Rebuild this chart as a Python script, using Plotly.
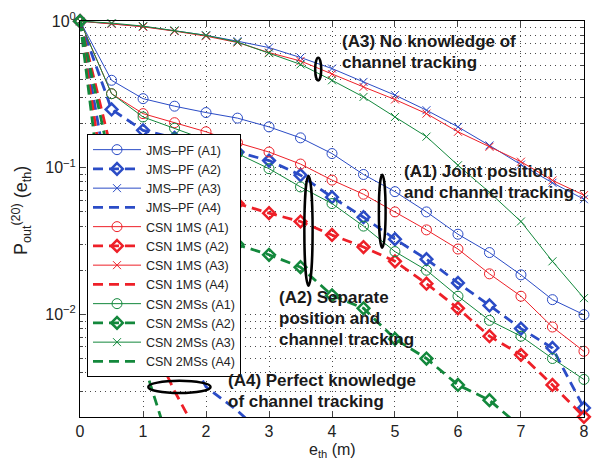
import numpy as np
import plotly.graph_objects as go

# error threshold e_th (m) where the outage probability is evaluated
x = [0, 0.5, 1, 1.5, 2, 2.5, 3, 3.5, 4, 4.5, 5, 5.5, 6, 6.5, 7, 7.5, 8]
x_a4_jms = [0, 0.5, 1, 1.5, 2, 2.5, 3]
x_a4_csn1 = [0, 0.5, 1, 1.5, 2]
x_a4_csn2 = [0, 0.5, 1, 1.5]

# (A1) joint position and channel tracking
jms_a1 = [1, 0.395, 0.296, 0.263, 0.238, 0.218, 0.19, 0.16, 0.125, 0.09, 0.0687, 0.05, 0.0352, 0.0264, 0.0186, 0.0126, 0.00995]
csn1_a1 = [1, 0.32, 0.234, 0.203, 0.176, 0.148, 0.128, 0.106, 0.0824, 0.066, 0.05, 0.0377, 0.0279, 0.0189, 0.0133, 0.0082, 0.0056]
csn2_a1 = [1, 0.32, 0.222, 0.186, 0.155, 0.125, 0.0986, 0.074, 0.057, 0.04, 0.0268, 0.020, 0.0133, 0.0091, 0.0071, 0.0050, 0.0036]

# (A2) separate position and channel tracking
jms_a2 = [1, 0.25, 0.18, 0.16, 0.145, 0.128, 0.112, 0.089, 0.063, 0.046, 0.0326, 0.0238, 0.0164, 0.0115, 0.0080, 0.0059, 0.0023]
csn1_a2 = [1, 0.13, 0.085, 0.074, 0.065, 0.057, 0.049, 0.043, 0.0348, 0.0288, 0.023, 0.0162, 0.011, 0.0071, 0.0053, 0.0033, 0.002]
csn2_a2 = [1, 0.1, 0.047, 0.04, 0.035, 0.03, 0.0255, 0.021, 0.0135, 0.011, 0.0068, 0.005, 0.0033, 0.0026, 0.0017, 0.0012, 0.0009]

# (A3) no knowledge of channel tracking
jms_a3 = [1, 0.96, 0.92, 0.86, 0.80, 0.73, 0.66, 0.565, 0.475, 0.385, 0.313, 0.247, 0.19, 0.142, 0.105, 0.079, 0.061]
csn1_a3 = [1, 0.96, 0.915, 0.855, 0.79, 0.715, 0.61, 0.535, 0.435, 0.356, 0.292, 0.234, 0.176, 0.139, 0.11, 0.082, 0.065]
csn2_a3 = [1, 0.97, 0.925, 0.865, 0.80, 0.72, 0.605, 0.507, 0.395, 0.304, 0.222, 0.163, 0.104, 0.068, 0.043, 0.023, 0.0129]

# (A4) perfect knowledge of channel tracking
jms_a4 = [1, 0.06, 0.022, 0.008, 0.0032, 0.0022, 0.0014]
csn1_a4 = [1, 0.035, 0.0085, 0.003, 0.0012]
csn2_a4 = [1, 0.018, 0.0048, 0.001]

x_ticks = [0, 1, 2, 3, 4, 5, 6, 7, 8]
y_ticks = [1, 0.1, 0.01]
y_ticktext = ["10<sup>0</sup>", "10<sup>−1</sup>", "10<sup>−2</sup>"]

BLUE = "#2b4cc6"
RED = "#ee2028"
GREEN = "#13883c"
FONT = "Liberation Sans, Arial, sans-serif"
DASH = "10px,6px"

X_RANGE = [-0.001, 8.001]
Y_RANGE = [np.log10(0.002) - 0.001, 0.001]

fig = go.Figure()


def solid(xs, ys, name, color, symbol, size):
    fig.add_trace(go.Scatter(
        x=xs, y=ys, name=name, mode="lines+markers", cliponaxis=False,
        line=dict(color=color, width=1),
        marker=dict(symbol=symbol, size=size, color=color,
                    line=dict(color=color, width=1)),
    ))


def dashed_diamond(xs, ys, name, color):
    fig.add_trace(go.Scatter(
        x=xs, y=ys, name=name, mode="lines+markers", cliponaxis=False,
        line=dict(color=color, width=2.8, dash=DASH),
        marker=dict(symbol="diamond-open", size=9, color=color,
                    line=dict(color=color, width=2.5)),
    ))


def dashed(xs, ys, name, color):
    fig.add_trace(go.Scatter(
        x=xs, y=ys, name=name, mode="lines",
        line=dict(color=color, width=2.8, dash=DASH),
    ))


solid(x, jms_a1, "JMS–PF (A1)", BLUE, "circle-open", 10)
dashed_diamond(x, jms_a2, "JMS–PF (A2)", BLUE)
solid(x, jms_a3, "JMS–PF (A3)", BLUE, "x-thin-open", 8)
dashed(x_a4_jms, jms_a4, "JMS–PF (A4)", BLUE)
solid(x, csn1_a1, "CSN 1MS (A1)", RED, "circle-open", 10)
dashed_diamond(x, csn1_a2, "CSN 1MS (A2)", RED)
solid(x, csn1_a3, "CSN 1MS (A3)", RED, "x-thin-open", 8)
dashed(x_a4_csn1, csn1_a4, "CSN 1MS (A4)", RED)
solid(x, csn2_a1, "CSN 2MSs (A1)", GREEN, "circle-open", 10)
dashed_diamond(x, csn2_a2, "CSN 2MSs (A2)", GREEN)
solid(x, csn2_a3, "CSN 2MSs (A3)", GREEN, "x-thin-open", 8)
dashed(x_a4_csn2, csn2_a4, "CSN 2MSs (A4)", GREEN)

# minor grid positions on the log axis
minor_vals = [m * 10.0 ** e for e in (-3, -2, -1) for m in range(2, 10)]
minor_vals = [v for v in minor_vals if v >= 0.002]

GRID_COLOR = "#4a4a4a"
GRID_DASH = "1px,4px"
grid = dict(showgrid=True, gridcolor=GRID_COLOR, gridwidth=1, griddash=GRID_DASH)

fig.update_xaxes(
    range=X_RANGE, tickvals=x_ticks, ticks="inside", ticklen=5,
    showline=True, linecolor="black", linewidth=1, mirror="ticks",
    tickfont=dict(size=16, color="#222"), zeroline=False, automargin=False,
    **grid,
)
fig.update_yaxes(
    type="log", range=Y_RANGE,
    tickvals=y_ticks, ticktext=y_ticktext, ticks="inside", ticklen=5,
    showline=True, linecolor="black", linewidth=1, mirror="ticks",
    tickfont=dict(size=16, color="#222"), automargin=False,
    minor=dict(tickvals=minor_vals, ticks="inside", ticklen=3,
               showgrid=True, gridcolor=GRID_COLOR, gridwidth=1, griddash=GRID_DASH),
    **grid,
)

# axis titles
fig.add_annotation(x=0.5, y=-0.084, xref="paper", yref="paper",
                   text="e<sub>th</sub> (m)", showarrow=False,
                   xanchor="center", yanchor="middle",
                   font=dict(family=FONT, size=16, color="#222"))
fig.add_annotation(x=-0.117, y=0.52, xref="paper", yref="paper",
                   text="P<sub>out</sub><sup>(20)</sup> (e<sub>th</sub>)", showarrow=False,
                   textangle=-90, xanchor="center", yanchor="middle",
                   font=dict(family=FONT, size=18, color="#222"))


def to_paper(xv, yv):
    """Map a point in data units (x in m, y as probability) to paper coordinates."""
    px = (xv - X_RANGE[0]) / (X_RANGE[1] - X_RANGE[0])
    py = (np.log10(yv) - Y_RANGE[0]) / (Y_RANGE[1] - Y_RANGE[0])
    return float(px), float(py)


# labels for the four tracking assumptions
labels = [
    (4.12, [0.73, 0.52], ["(A3) No knowledge of", "channel tracking"]),
    (5.105, [0.0945, 0.068], ["(A1) Joint position", "and channel tracking"]),
    (3.12, [0.0131, 0.0094, 0.00676], ["(A2) Separate", "position and", "channel tracking"]),
    (2.31, [0.00356, 0.00256], ["(A4) Perfect knowledge", "of channel tracking"]),
]
for lx, lys, lines in labels:
    for ly, txt in zip(lys, lines):
        px, py = to_paper(lx, ly)
        fig.add_annotation(x=px, y=py, xref="paper", yref="paper", text=txt,
                           showarrow=False, xanchor="left", yanchor="middle",
                           font=dict(family=FONT, size=17, color="#1a1a1a", weight="bold"))

# ellipses grouping the curves of each assumption
ellipses = [
    (3.733, 3.829, 0.394, 0.563),
    (4.744, 4.851, 0.0285, 0.0897),
    (3.561, 3.692, 0.0157, 0.0881),
    (1.083, 2.072, 0.00291, 0.00352),
]
for ex0, ex1, ey0, ey1 in ellipses:
    px0, py0 = to_paper(ex0, ey0)
    px1, py1 = to_paper(ex1, ey1)
    fig.add_shape(type="circle", xref="paper", yref="paper",
                  x0=px0, x1=px1, y0=py0, y1=py1, layer="above",
                  line=dict(color="black", width=2.5))

fig.update_layout(
    width=595, height=459,
    margin=dict(l=80, r=11, t=21, b=42, autoexpand=False),
    paper_bgcolor="white", plot_bgcolor="white",
    font=dict(family=FONT, color="#222"),
    showlegend=True,
    legend=dict(x=0.0139, y=0.7146, xanchor="left", yanchor="top",
                bgcolor="white", bordercolor="black", borderwidth=1,
                font=dict(size=12.5, color="#222"), itemwidth=48,
                tracegroupgap=0),
)

fig.write_html("out.html")
